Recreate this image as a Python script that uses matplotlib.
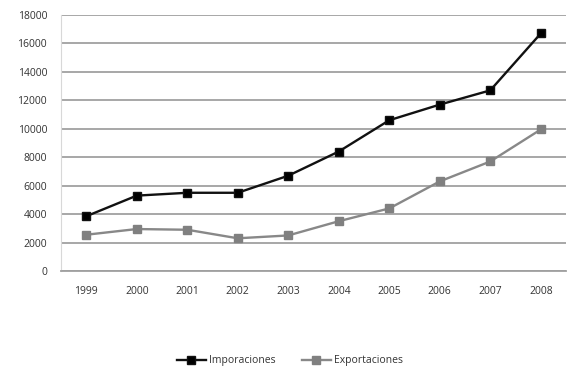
import matplotlib
matplotlib.use("Agg")
import matplotlib.pyplot as plt

years = ["1999", "2000", "2001", "2002", "2003", "2004", "2005", "2006", "2007", "2008"]
importaciones = [3850, 5300, 5500, 5500, 6700, 8400, 10600, 11700, 12700, 16700]
exportaciones = [2550, 2950, 2900, 2300, 2500, 3500, 4400, 6300, 7700, 9950]
yticks = [0, 2000, 4000, 6000, 8000, 10000, 12000, 14000, 16000, 18000]

plt.rcParams['font.family'] = ['Open Sans', 'DejaVu Sans']
fig = plt.figure(figsize=(5.8, 3.77), dpi=100)
ax = fig.add_axes([61/580, 1-271/377, (566-61)/580, (271-15)/377])

x = list(range(len(years)))
ax.plot(x, importaciones, color='#111111', lw=1.7, marker='s', ms=5.5,
        markerfacecolor='black', markeredgecolor='#111111', label='Imporaciones', zorder=3)
ax.plot(x, exportaciones, color='#888888', lw=1.7, marker='s', ms=5.5,
        markerfacecolor='#808080', markeredgecolor='#808080', label='Exportaciones', zorder=3)

ax.set_xlim(-0.5, len(years)-0.5)
ax.set_ylim(0, 18000)
ax.set_yticks(yticks)
ax.set_yticklabels([str(v) for v in yticks])
ax.set_xticks(x)
ax.set_xticklabels(years)
ax.yaxis.grid(True, color='#a0a0a0', lw=1.3)
ax.set_axisbelow(True)
ax.tick_params(axis='both', length=0, labelsize=7.5, colors='#333333')
ax.tick_params(axis='y', pad=10)
ax.tick_params(axis='x', pad=11)
for s in ['top', 'right']:
    ax.spines[s].set_visible(False)
ax.spines['left'].set_color('#d8d8d8')
ax.spines['bottom'].set_color('#a0a0a0')
ax.spines['bottom'].set_linewidth(1.3)

fig.legend(loc='center', bbox_to_anchor=(290/580, 1-361/377), ncol=2, frameon=False,
           fontsize=7.5, handlelength=2.8, columnspacing=2.5, handletextpad=0.3,
           labelcolor='#333333')

fig.savefig('out.png', dpi=100, facecolor='white')
